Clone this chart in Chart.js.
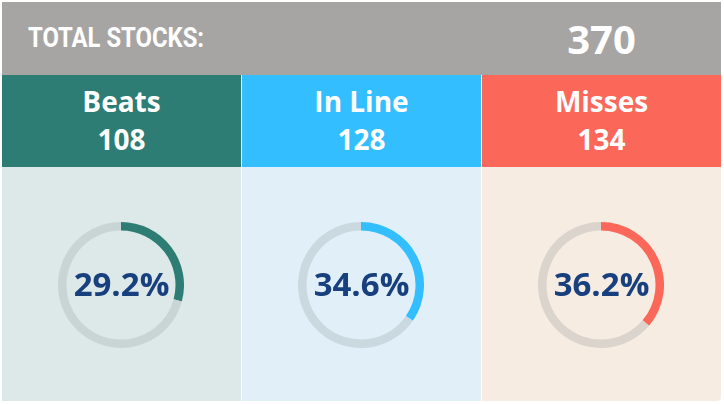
<!DOCTYPE html>
<html>
<head>
<meta charset="utf-8">
<script src="https://cdn.jsdelivr.net/npm/chart.js@4"></script>
<style>
  html, body { margin: 0; padding: 0; background: #fff; }
  body { width: 724px; height: 404px; position: relative; overflow: hidden; font-family: "Open Sans", sans-serif; }
  #wrap { position: absolute; left: 2px; top: 2px; width: 719px; height: 399px; border-bottom-right-radius: 4px; overflow: hidden; background: #fff; }
  #top { position: absolute; left: 0; top: 0; width: 719px; height: 73px; background: #a7a5a4; }
  #topLabel { position: absolute; left: 26px; top: 18px; font-family: Roboto, sans-serif; font-weight: bold; font-size: 27px; line-height: 36px; color: #fff; transform-origin: left center; white-space: nowrap; }
  #topValue { position: absolute; left: 480px; width: 239px; top: 11px; text-align: center; font-weight: bold; font-size: 40px; color: #fff; line-height: 52px; }
  .col { position: absolute; top: 73px; width: 239px; height: 326px; }
  .head { position: absolute; left: 0; top: 0; width: 100%; height: 92px; color: #fff; font-weight: bold; font-size: 28px; text-align: center; }
  .head div { position: absolute; left: 0; width: 100%; height: 38px; line-height: 38px; }
  .body { position: absolute; left: 0; top: 92px; width: 100%; height: 234px; }
  .ring { position: absolute; left: 56px; top: 55px; width: 126px; height: 126px; }
  .pct { position: absolute; left: 0; width: 100%; top: 97px; text-align: center; font-weight: bold; font-size: 33px; line-height: 40px; color: #183f7e; }
</style>
</head>
<body>
<div id="wrap">
  <div id="top">
    <div id="topLabel">TOTAL STOCKS:</div>
    <div id="topValue"></div>
  </div>
  <div id="cols"></div>
</div>
<script>
const categories = ['Beats', 'In Line', 'Misses'];
const counts = [108, 128, 134];
const totalStocks = 370;
const mainColors = ['#2e7d74', '#33bfff', '#fb6759'];
const bodyColors = ['#dce9e8', '#e1f0f8', '#f6ece2'];
const trackColors = ['#c9d5d5', '#cad8df', '#dad4cd'];
const colLeft = [0, 240, 480];

document.getElementById('topValue').innerText = totalStocks;

// condensed look for the header label
const rotulo = document.getElementById('topLabel');
const largura = rotulo.getBoundingClientRect().width;
rotulo.style.transform = 'scaleX(' + (176 / largura) + ')';

const cols = document.getElementById('cols');
categories.forEach((nome, i) => {
  const pct = counts[i] / totalStocks * 100;
  const col = document.createElement('div');
  col.className = 'col';
  col.style.left = colLeft[i] + 'px';
  col.innerHTML = `
    <div class="head" style="background:${mainColors[i]}">
      <div style="top:7px">${nome}</div>
      <div style="top:45px">${counts[i]}</div>
    </div>
    <div class="body" style="background:${bodyColors[i]}">
      <div class="ring"><canvas id="ring${i}" width="126" height="126"></canvas></div>
      <div class="pct">${pct.toFixed(1)}%</div>
    </div>`;
  cols.appendChild(col);

  const ctx = document.getElementById('ring' + i).getContext('2d');
  new Chart(ctx, {
    type: 'doughnut',
    data: {
      labels: [nome, 'Outros'],
      datasets: [{
        data: [counts[i], totalStocks - counts[i]],
        backgroundColor: [mainColors[i], trackColors[i]],
        borderWidth: 0,
        hoverOffset: 0
      }]
    },
    options: {
      responsive: false,
      animation: false,
      cutout: '86.5%',
      layout: { padding: 0 },
      plugins: { legend: { display: false }, tooltip: { enabled: false } }
    }
  });
});
</script>
</body>
</html>
